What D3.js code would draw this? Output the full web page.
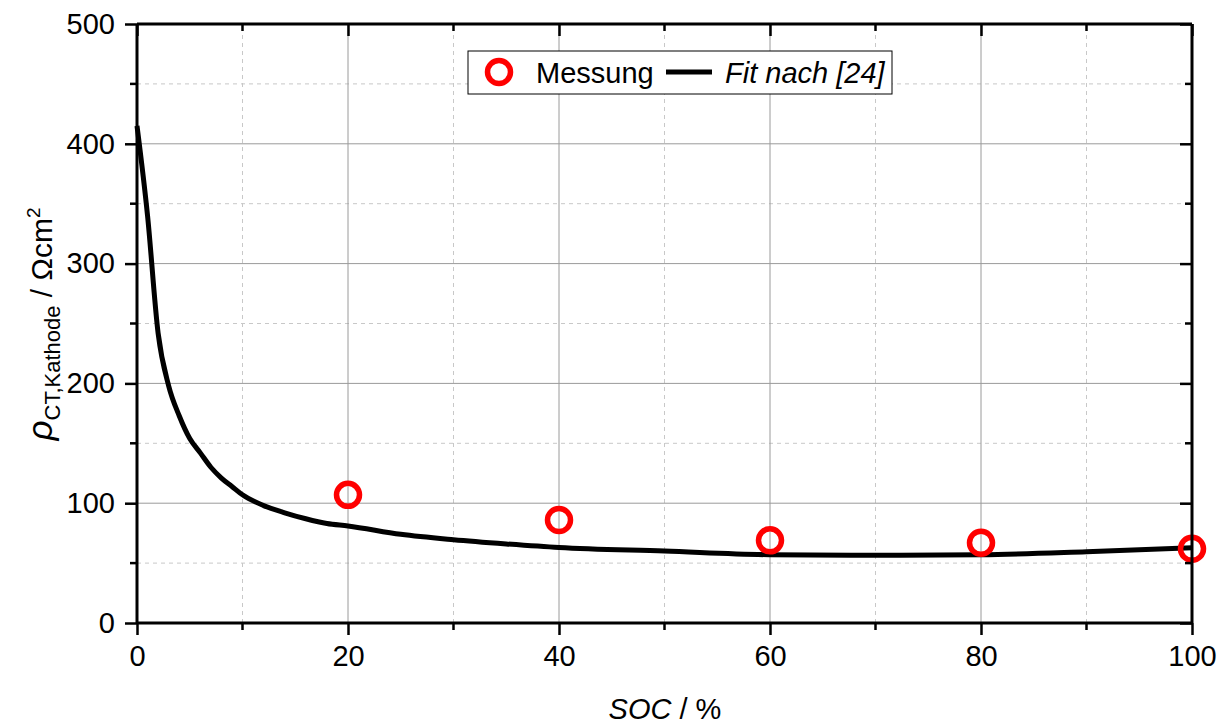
<!DOCTYPE html>
<html>
<head>
<meta charset="utf-8">
<script src="https://cdn.jsdelivr.net/npm/d3@7"></script>
<style>
  body { margin: 0; background: #fff; }
  text { font-family: "Liberation Sans", Arial, sans-serif; }
</style>
</head>
<body>
<div id="chart"></div>
<script>
// measured points
var socMess = [20, 40, 60, 80, 100]
var rhoMess = [107, 86, 69, 67, 62]

// fit curve
var socFit = [0, 1, 2, 3, 4, 5, 6, 7, 8, 9, 10, 12, 14, 16, 18, 20, 25, 30, 35, 40, 50, 60, 70, 80, 90, 100]
var rhoFit = [415, 340, 242, 198, 173, 154, 142, 130, 121, 114, 107, 98, 92, 87, 83, 81, 74, 69.5, 66, 63, 60, 57, 56.5, 57, 59.5, 62.8]

var xTicks = [0, 20, 40, 60, 80, 100]
var yTicks = [0, 100, 200, 300, 400, 500]

var width = 1228, height = 726
var margin = { left: 137, right: 36, top: 24, bottom: 103 }

var svg = d3.select("#chart")
    .append("svg")
    .attr("width", width)
    .attr("height", height)

var x = d3.scaleLinear().domain([0, 100]).range([margin.left, width - margin.right])
var y = d3.scaleLinear().domain([0, 500]).range([height - margin.bottom, margin.top])

var minorX = d3.range(10, 100, 20)
var minorY = d3.range(50, 500, 100)

// grid
var grid = svg.append("g")
grid.selectAll(".gxMinor").data(minorX).enter().append("line")
    .attr("x1", d => x(d)).attr("x2", d => x(d))
    .attr("y1", y(0)).attr("y2", y(500))
    .attr("stroke", "#c8c8c8").attr("stroke-width", 1).attr("stroke-dasharray", "4,4")
grid.selectAll(".gyMinor").data(minorY).enter().append("line")
    .attr("x1", x(0)).attr("x2", x(100))
    .attr("y1", d => y(d)).attr("y2", d => y(d))
    .attr("stroke", "#c8c8c8").attr("stroke-width", 1).attr("stroke-dasharray", "4,4")
grid.selectAll(".gxMajor").data(xTicks.slice(1, -1)).enter().append("line")
    .attr("x1", d => x(d)).attr("x2", d => x(d))
    .attr("y1", y(0)).attr("y2", y(500))
    .attr("stroke", "#9a9a9a").attr("stroke-width", 1)
grid.selectAll(".gyMajor").data(yTicks.slice(1, -1)).enter().append("line")
    .attr("x1", x(0)).attr("x2", x(100))
    .attr("y1", d => y(d)).attr("y2", d => y(d))
    .attr("stroke", "#9a9a9a").attr("stroke-width", 1)

// fit line
var fitData = socFit.map((s, i) => ({ x: s, y: rhoFit[i] }))
var line = d3.line().x(d => x(d.x)).y(d => y(d.y)).curve(d3.curveMonotoneX)

var plot = svg.append("g")
plot.append("path")
    .datum(fitData)
    .attr("d", line)
    .attr("fill", "none")
    .attr("stroke", "black")
    .attr("stroke-width", 5)
    .attr("stroke-linejoin", "round")

// points
plot.selectAll(".pt")
    .data(socMess.map((s, i) => ({ x: s, y: rhoMess[i] })))
    .enter().append("circle")
    .attr("cx", d => x(d.x))
    .attr("cy", d => y(d.y))
    .attr("r", 11.5)
    .attr("fill", "none")
    .attr("stroke", "#ff0000")
    .attr("stroke-width", 5.5)

// axes
var fmt = d3.format("d")
var axBottom = svg.append("g")
    .attr("transform", "translate(0," + y(0) + ")")
    .call(d3.axisBottom(x).tickValues(xTicks).tickFormat(fmt).tickSize(12).tickPadding(10))
var axLeft = svg.append("g")
    .attr("transform", "translate(" + x(0) + ",0)")
    .call(d3.axisLeft(y).tickValues(yTicks).tickFormat(fmt).tickSize(12).tickPadding(10))
var axTop = svg.append("g")
    .attr("transform", "translate(0," + y(500) + ")")
    .call(d3.axisBottom(x).tickValues(xTicks).tickFormat("").tickSize(12))
var axRight = svg.append("g")
    .attr("transform", "translate(" + x(100) + ",0)")
    .call(d3.axisLeft(y).tickValues(yTicks).tickFormat("").tickSize(12))

// minor ticks
axBottom.selectAll(".mt").data(minorX).enter().append("line")
    .attr("x1", d => x(d)).attr("x2", d => x(d)).attr("y1", 0).attr("y2", 7)
    .attr("stroke", "black").attr("stroke-width", 2.5)
axLeft.selectAll(".mt").data(minorY).enter().append("line")
    .attr("y1", d => y(d)).attr("y2", d => y(d)).attr("x1", 0).attr("x2", -7)
    .attr("stroke", "black").attr("stroke-width", 2.5)
axTop.selectAll(".mt").data(minorX).enter().append("line")
    .attr("x1", d => x(d)).attr("x2", d => x(d)).attr("y1", 0).attr("y2", 7)
    .attr("stroke", "black").attr("stroke-width", 2.5)
axRight.selectAll(".mt").data(minorY).enter().append("line")
    .attr("y1", d => y(d)).attr("y2", d => y(d)).attr("x1", 0).attr("x2", -7)
    .attr("stroke", "black").attr("stroke-width", 2.5)

;[axBottom, axLeft, axTop, axRight].forEach(function(g) {
    g.select(".domain").attr("stroke-width", 3).attr("stroke", "black")
    g.selectAll(".tick line").attr("stroke-width", 2.5)
    g.selectAll(".tick text")
        .style("font-size", "29px")
        .style("font-family", "Liberation Sans, Arial, sans-serif")
        .attr("fill", "black")
})
axBottom.select(".domain").attr("d", "M" + x(0) + ",0H" + x(100))
axTop.select(".domain").attr("d", "M" + x(0) + ",0H" + x(100))
axLeft.select(".domain").attr("d", "M0," + y(0) + "V" + y(500))
axRight.select(".domain").attr("d", "M0," + y(0) + "V" + y(500))

// axis titles
var xt = svg.append("text")
    .attr("x", 665)
    .attr("y", 719)
    .attr("text-anchor", "middle")
    .style("font-size", "29px")
xt.append("tspan").style("font-style", "italic").text("SOC")
xt.append("tspan").text(" / %")

var yt = svg.append("text")
    .attr("transform", "translate(52,324) rotate(-90)")
    .attr("text-anchor", "middle")
    .style("font-size", "30px")
yt.append("tspan").style("font-style", "italic").style("font-size", "35px").text("ρ")
yt.append("tspan").attr("dy", 8).style("font-size", "22px").text("CT,Kathode")
yt.append("tspan").attr("dy", -8).text(" / Ωcm")
yt.append("tspan").attr("dy", -12).style("font-size", "19px").text("2")

// legend
var legend = svg.append("g").attr("transform", "translate(468,51)")
legend.append("rect")
    .attr("width", 424).attr("height", 43)
    .attr("fill", "white").attr("stroke", "black").attr("stroke-width", 1)
legend.append("circle")
    .attr("cx", 31).attr("cy", 21).attr("r", 11.5)
    .attr("fill", "none").attr("stroke", "#ff0000").attr("stroke-width", 5.5)
legend.append("text")
    .attr("x", 68).attr("y", 31.5)
    .style("font-size", "29px")
    .text("Messung")
legend.append("line")
    .attr("x1", 198).attr("x2", 244).attr("y1", 21).attr("y2", 21)
    .attr("stroke", "black").attr("stroke-width", 5)
legend.append("text")
    .attr("x", 257).attr("y", 31.5)
    .style("font-size", "29px")
    .style("font-style", "italic")
    .text("Fit nach [24]")
</script>
</body>
</html>
